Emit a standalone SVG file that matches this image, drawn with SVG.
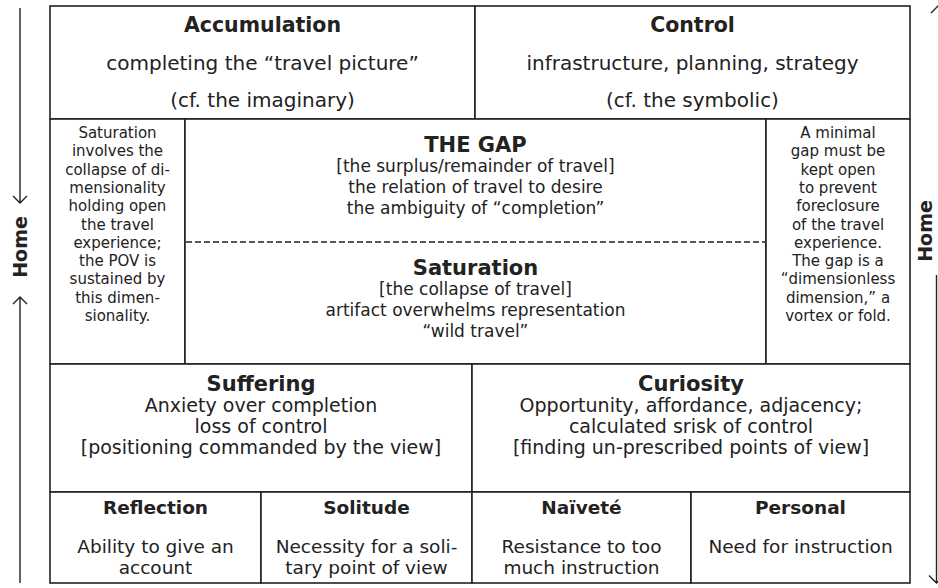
<svg xmlns="http://www.w3.org/2000/svg" width="938" height="588" viewBox="0 0 938 588">
<defs>
<style>
.cell{fill:#fff;stroke:#222;stroke-width:1.6}
.ln{stroke:#222;stroke-width:1.4;fill:none}
text{font-family:"DejaVu Sans","Verdana",sans-serif;fill:#222;text-anchor:middle}
.h1{font-weight:bold;font-size:20.5px}
.b1{font-size:20px}
.h2{font-weight:bold;font-size:21px}
.b2{font-size:17px}
.sn{font-size:15px}
.h3{font-weight:bold;font-size:21px}
.b3{font-size:19px}
.hb{font-weight:bold;font-size:18.5px}
.bb{font-size:18.5px}
.home{font-weight:bold;font-size:19px}
</style>
</defs>
<rect width="938" height="588" fill="#fff"/>
<g id="accumulation">
<rect class="cell" x="50" y="6" width="425" height="113"/>
<text class="h1" x="262.5" y="32">Accumulation</text>
<text class="b1" x="262.5" y="70">completing the “travel picture”</text>
<text class="b1" x="262.5" y="107">(cf. the imaginary)</text>
</g>
<g id="control">
<rect class="cell" x="475" y="6" width="435" height="113"/>
<text class="h1" x="692.5" y="32">Control</text>
<text class="b1" x="692.5" y="70">infrastructure, planning, strategy</text>
<text class="b1" x="692.5" y="107">(cf. the symbolic)</text>
</g>
<g id="saturation-note">
<rect class="cell" x="50" y="119" width="135" height="245"/>
<text class="sn" x="117.5" y="138">Saturation</text>
<text class="sn" x="117.5" y="156.3">involves the</text>
<text class="sn" x="117.5" y="174.6">collapse of di-</text>
<text class="sn" x="117.5" y="192.9">mensionality</text>
<text class="sn" x="117.5" y="211.2">holding open</text>
<text class="sn" x="117.5" y="229.5">the travel</text>
<text class="sn" x="117.5" y="247.8">experience;</text>
<text class="sn" x="117.5" y="266.1">the POV is</text>
<text class="sn" x="117.5" y="284.4">sustained by</text>
<text class="sn" x="117.5" y="302.7">this dimen-</text>
<text class="sn" x="117.5" y="321">sionality.</text>
</g>
<g id="the-gap">
<rect class="cell" x="185" y="119" width="581" height="245"/>
<text class="h2" x="475.5" y="152">THE GAP</text>
<text class="b2" x="475.5" y="172">[the surplus/remainder of travel]</text>
<text class="b2" x="475.5" y="193">the relation of travel to desire</text>
<text class="b2" x="475.5" y="214">the ambiguity of “completion”</text>
</g>
<g id="saturation">
<line class="ln" x1="186" y1="242" x2="765" y2="242" stroke-dasharray="6,3"/>
<text class="h2" x="475.5" y="275">Saturation</text>
<text class="b2" x="475.5" y="295">[the collapse of travel]</text>
<text class="b2" x="475.5" y="316">artifact overwhelms representation</text>
<text class="b2" x="475.5" y="337">“wild travel”</text>
</g>
<g id="gap-note">
<rect class="cell" x="766" y="119" width="144" height="245"/>
<text class="sn" x="838" y="138">A minimal</text>
<text class="sn" x="838" y="156.3">gap must be</text>
<text class="sn" x="838" y="174.6">kept open</text>
<text class="sn" x="838" y="192.9">to prevent</text>
<text class="sn" x="838" y="211.2">foreclosure</text>
<text class="sn" x="838" y="229.5">of the travel</text>
<text class="sn" x="838" y="247.8">experience.</text>
<text class="sn" x="838" y="266.1">The gap is a</text>
<text class="sn" x="838" y="284.4">“dimensionless</text>
<text class="sn" x="838" y="302.7">dimension,” a</text>
<text class="sn" x="838" y="321">vortex or fold.</text>
</g>
<g id="suffering">
<rect class="cell" x="50" y="364" width="422" height="128"/>
<text class="h3" x="261" y="391">Suffering</text>
<text class="b3" x="261" y="412">Anxiety over completion</text>
<text class="b3" x="261" y="433">loss of control</text>
<text class="b3" x="261" y="454">[positioning commanded by the view]</text>
</g>
<g id="curiosity">
<rect class="cell" x="472" y="364" width="438" height="128"/>
<text class="h3" x="691" y="391">Curiosity</text>
<text class="b3" x="691" y="412">Opportunity, affordance, adjacency;</text>
<text class="b3" x="691" y="433">calculated srisk of control</text>
<text class="b3" x="691" y="454">[finding un-prescribed points of view]</text>
</g>
<g id="reflection">
<rect class="cell" x="50" y="492" width="211" height="91"/>
<text class="hb" x="155.5" y="514">Reflection</text>
<text class="bb" x="155.5" y="553">Ability to give an</text>
<text class="bb" x="155.5" y="574">account</text>
</g>
<g id="solitude">
<rect class="cell" x="261" y="492" width="211" height="91"/>
<text class="hb" x="366.5" y="514">Solitude</text>
<text class="bb" x="366.5" y="553">Necessity for a soli-</text>
<text class="bb" x="366.5" y="574">tary point of view</text>
</g>
<g id="naivete">
<rect class="cell" x="472" y="492" width="219" height="91"/>
<text class="hb" x="581.5" y="514">Naïveté</text>
<text class="bb" x="581.5" y="553">Resistance to too</text>
<text class="bb" x="581.5" y="574">much instruction</text>
</g>
<g id="personal">
<rect class="cell" x="691" y="492" width="219" height="91"/>
<text class="hb" x="800.5" y="514">Personal</text>
<text class="bb" x="800.5" y="553">Need for instruction</text>
</g>
<g id="home-left">
<text class="home" transform="translate(27,247) rotate(-90)">Home</text>
</g>
<g id="home-right">
<text class="home" transform="translate(932,231) rotate(-90)">Home</text>
</g>
<g id="connectors">
<path class="ln" d="M20,8 V203 M13,196 L20,203 L27,196"/>
<path class="ln" d="M20,583 V297 M13,304 L20,297 L27,304"/>
<path class="ln" d="M939.2,5 V200 M931,13 L939,5 L947,13"/>
<path class="ln" d="M936.5,275 V583 M929,575.5 L936.5,583 L944,575.5"/>
</g>
</svg>
